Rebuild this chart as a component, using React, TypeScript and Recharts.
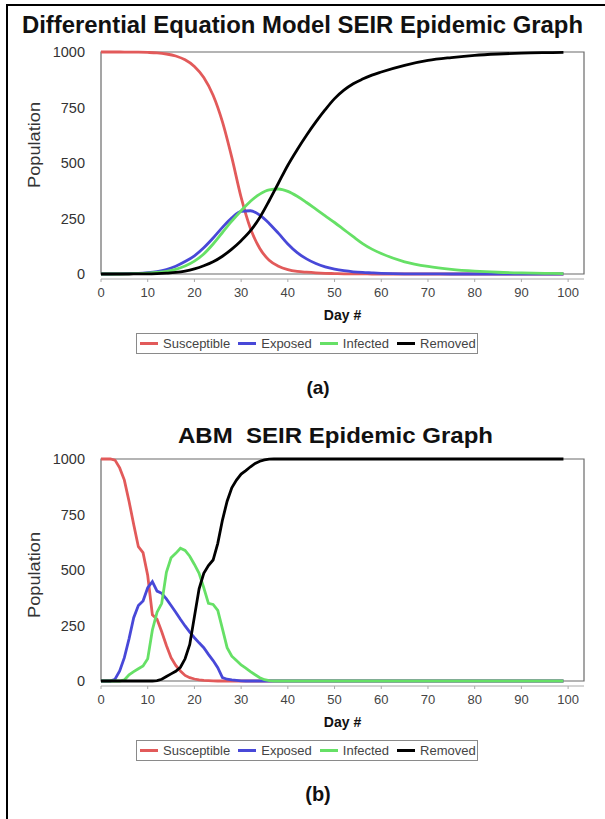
import React from 'react';
import { LineChart, Line, XAxis, YAxis, ReferenceArea, Legend } from 'recharts';

const seriesNames = ['Susceptible', 'Exposed', 'Infected', 'Removed'];
const seriesColors = ['#e25a5a', '#4848d8', '#66e066', '#000000'];
const xTicks = [0, 10, 20, 30, 40, 50, 60, 70, 80, 90, 100];
const yTicks = [0, 250, 500, 750, 1000];

// (a) Differential equation model
const daysA = [0, 2, 4, 6, 8, 10, 12, 14, 16, 18, 20, 22, 24, 26, 28, 30, 32, 34, 36, 38, 40, 42, 44, 46, 48, 50, 52, 54, 56, 58, 60, 65, 70, 75, 80, 85, 90, 95, 99];
const susceptibleA = [1000, 1000, 1000, 999, 999, 998, 996, 991, 982, 965, 935, 885, 805, 685, 525, 345, 205, 115, 62, 35, 20, 12, 8, 5, 3, 2, 1, 1, 1, 0, 0, 0, 0, 0, 0, 0, 0, 0, 0];
const exposedA = [0, 0, 1, 2, 3, 6, 11, 20, 35, 56, 82, 118, 162, 210, 253, 282, 285, 265, 228, 183, 135, 96, 68, 47, 32, 22, 15, 10, 7, 5, 3, 1, 1, 0, 0, 0, 0, 0, 0];
const infectedA = [0, 0, 0, 1, 2, 4, 7, 12, 21, 36, 58, 90, 135, 187, 238, 285, 328, 360, 379, 383, 372, 350, 322, 292, 262, 232, 200, 168, 137, 112, 92, 55, 34, 21, 13, 8, 5, 3, 2];
const removedA = [0, 0, 0, 0, 1, 1, 2, 4, 7, 13, 23, 37, 55, 80, 112, 150, 195, 255, 330, 410, 490, 560, 625, 685, 740, 790, 828, 857, 878, 896, 910, 940, 962, 975, 985, 991, 995, 997, 998];

// (b) Agent-based model
const daysB = [0, 1, 2, 3, 4, 5, 6, 7, 8, 9, 10, 11, 12, 13, 14, 15, 16, 17, 18, 19, 20, 21, 22, 23, 24, 25, 26, 27, 28, 29, 30, 31, 32, 33, 34, 35, 36, 37, 38, 39, 40, 45, 50, 55, 60, 65, 70, 75, 80, 85, 90, 95, 99];
const susceptibleB = [1000, 1000, 1000, 995, 960, 905, 810, 705, 605, 578, 475, 298, 278, 222, 160, 105, 70, 45, 25, 15, 9, 5, 3, 2, 1, 0, 0, 0, 0, 0, 0, 0, 0, 0, 0, 0, 0, 0, 0, 0, 0, 0, 0, 0, 0, 0, 0, 0, 0, 0, 0, 0, 0];
const exposedB = [0, 0, 0, 8, 45, 105, 190, 285, 340, 360, 420, 448, 405, 395, 370, 340, 310, 278, 248, 220, 195, 172, 150, 120, 92, 60, 15, 8, 5, 3, 1, 0, 0, 0, 0, 0, 0, 0, 0, 0, 0, 0, 0, 0, 0, 0, 0, 0, 0, 0, 0, 0, 0];
const infectedB = [0, 0, 0, 0, 0, 5, 28, 42, 55, 68, 100, 230, 310, 350, 490, 555, 575, 598, 588, 562, 525, 485, 420, 350, 345, 318, 235, 150, 112, 92, 72, 58, 42, 28, 15, 6, 2, 0, 0, 0, 0, 0, 0, 0, 0, 0, 0, 0, 0, 0, 0, 0, 0];
const removedB = [0, 0, 0, 0, 0, 0, 0, 0, 0, 0, 0, 0, 2, 8, 20, 32, 44, 62, 100, 165, 290, 415, 485, 520, 545, 620, 725, 810, 870, 905, 932, 948, 965, 980, 990, 996, 999, 1000, 1000, 1000, 1000, 1000, 1000, 1000, 1000, 1000, 1000, 1000, 1000, 1000, 1000, 1000, 1000];

const build = (days: number[], s: number[], e: number[], i: number[], r: number[]) =>
  days.map((d, k) => ({ day: d, Susceptible: s[k], Exposed: e[k], Infected: i[k], Removed: r[k] }));

const dataA = build(daysA, susceptibleA, exposedA, infectedA, removedA);
const dataB = build(daysB, susceptibleB, exposedB, infectedB, removedB);

const FONT = '"Liberation Sans", Arial, Helvetica, sans-serif';

const LegendBox = () => (
  <div
    style={{
      display: 'flex',
      alignItems: 'center',
      boxSizing: 'border-box',
      width: 342,
      height: 21,
      border: '1px solid #8a8a8a',
      paddingLeft: 3,
      fontFamily: FONT,
      fontSize: 13,
      color: '#444',
      background: '#fff',
    }}
  >
    {seriesNames.map((n, k) => (
      <div key={n} style={{ display: 'flex', alignItems: 'center', marginRight: 8 }}>
        <div style={{ width: 18, height: 3, background: seriesColors[k], marginRight: 5 }} />
        <span>{n}</span>
      </div>
    ))}
  </div>
);

const Panel = ({ data, top, linear }: { data: any[]; top: number; linear: boolean }) => (
  <div style={{ position: 'absolute', left: 0, top }}>
    <LineChart width={605} height={370} data={data} margin={{ top: 52, right: 21, bottom: 61, left: 41 }}>
      <ReferenceArea x1={0} x2={103.4} y1={0} y2={1000} fill="none" stroke="#6a6a6a" strokeWidth={1.2} ifOverflow="visible" />
      <XAxis
        dataKey="day"
        type="number"
        domain={[0, 103.4]}
        ticks={xTicks}
        interval={0}
        height={30}
        tickSize={3}
        tickMargin={6}
        stroke="#aaa"
        tick={{ fill: '#444', fontSize: 13, fontFamily: FONT }}
        label={{ value: 'Day #', position: 'bottom', offset: 1, style: { fontFamily: FONT, fontSize: 14, fontWeight: 'bold', fill: '#111' } }}
      />
      <YAxis
        type="number"
        domain={[-22.5, 1000]}
        ticks={yTicks}
        interval={0}
        width={60}
        axisLine={false}
        tickLine={false}
        tickMargin={10}
        tick={{ fill: '#333', fontSize: 14.5, fontFamily: FONT }}
      />
      <Legend
        layout="horizontal"
        verticalAlign="middle"
        align="center"
        content={() => <LegendBox />}
        wrapperStyle={{ left: 136, top: 333, width: 342, height: 21 }}
      />
      {seriesNames.map((n, k) => (
        <Line
          key={n}
          dataKey={n}
          type={linear ? 'linear' : 'monotone'}
          stroke={seriesColors[k]}
          strokeWidth={2.8}
          dot={false}
          isAnimationActive={false}
        />
      ))}
    </LineChart>
  </div>
);

export default function App() {
  return (
    <div style={{ position: 'absolute', left: 0, top: 0, width: 605, height: 819, background: '#fff', overflow: 'hidden' }}>
      <Panel data={dataA} top={0} linear={false} />
      <Panel data={dataB} top={407} linear={true} />
      <svg width={605} height={819} style={{ position: 'absolute', left: 0, top: 0, pointerEvents: 'none' }}>
        <line x1={7} y1={5} x2={605} y2={5} stroke="#000" strokeWidth={2} />
        <line x1={7} y1={4} x2={7} y2={819} stroke="#000" strokeWidth={2} />
        <text x={22} y={33} fontFamily={FONT} fontWeight="bold" fontSize={23} textLength={561} lengthAdjust="spacingAndGlyphs" fill="#111">
          Differential Equation Model SEIR Epidemic Graph
        </text>
        <text x={178} y={443} fontFamily={FONT} fontWeight="bold" fontSize={21.5} textLength={315} lengthAdjust="spacingAndGlyphs" fill="#111" xmlSpace="preserve">
          ABM  SEIR Epidemic Graph
        </text>
        <text transform="translate(40,145) rotate(-90)" textAnchor="middle" fontFamily={FONT} fontSize={17} textLength={86} lengthAdjust="spacingAndGlyphs" fill="#333">
          Population
        </text>
        <text transform="translate(40,575) rotate(-90)" textAnchor="middle" fontFamily={FONT} fontSize={17} textLength={86} lengthAdjust="spacingAndGlyphs" fill="#333">
          Population
        </text>
        <text x={318} y={394} textAnchor="middle" fontFamily={FONT} fontWeight="bold" fontSize={19} fill="#111">
          (a)
        </text>
        <text x={318} y={801} textAnchor="middle" fontFamily={FONT} fontWeight="bold" fontSize={20} fill="#111">
          (b)
        </text>
      </svg>
    </div>
  );
}
